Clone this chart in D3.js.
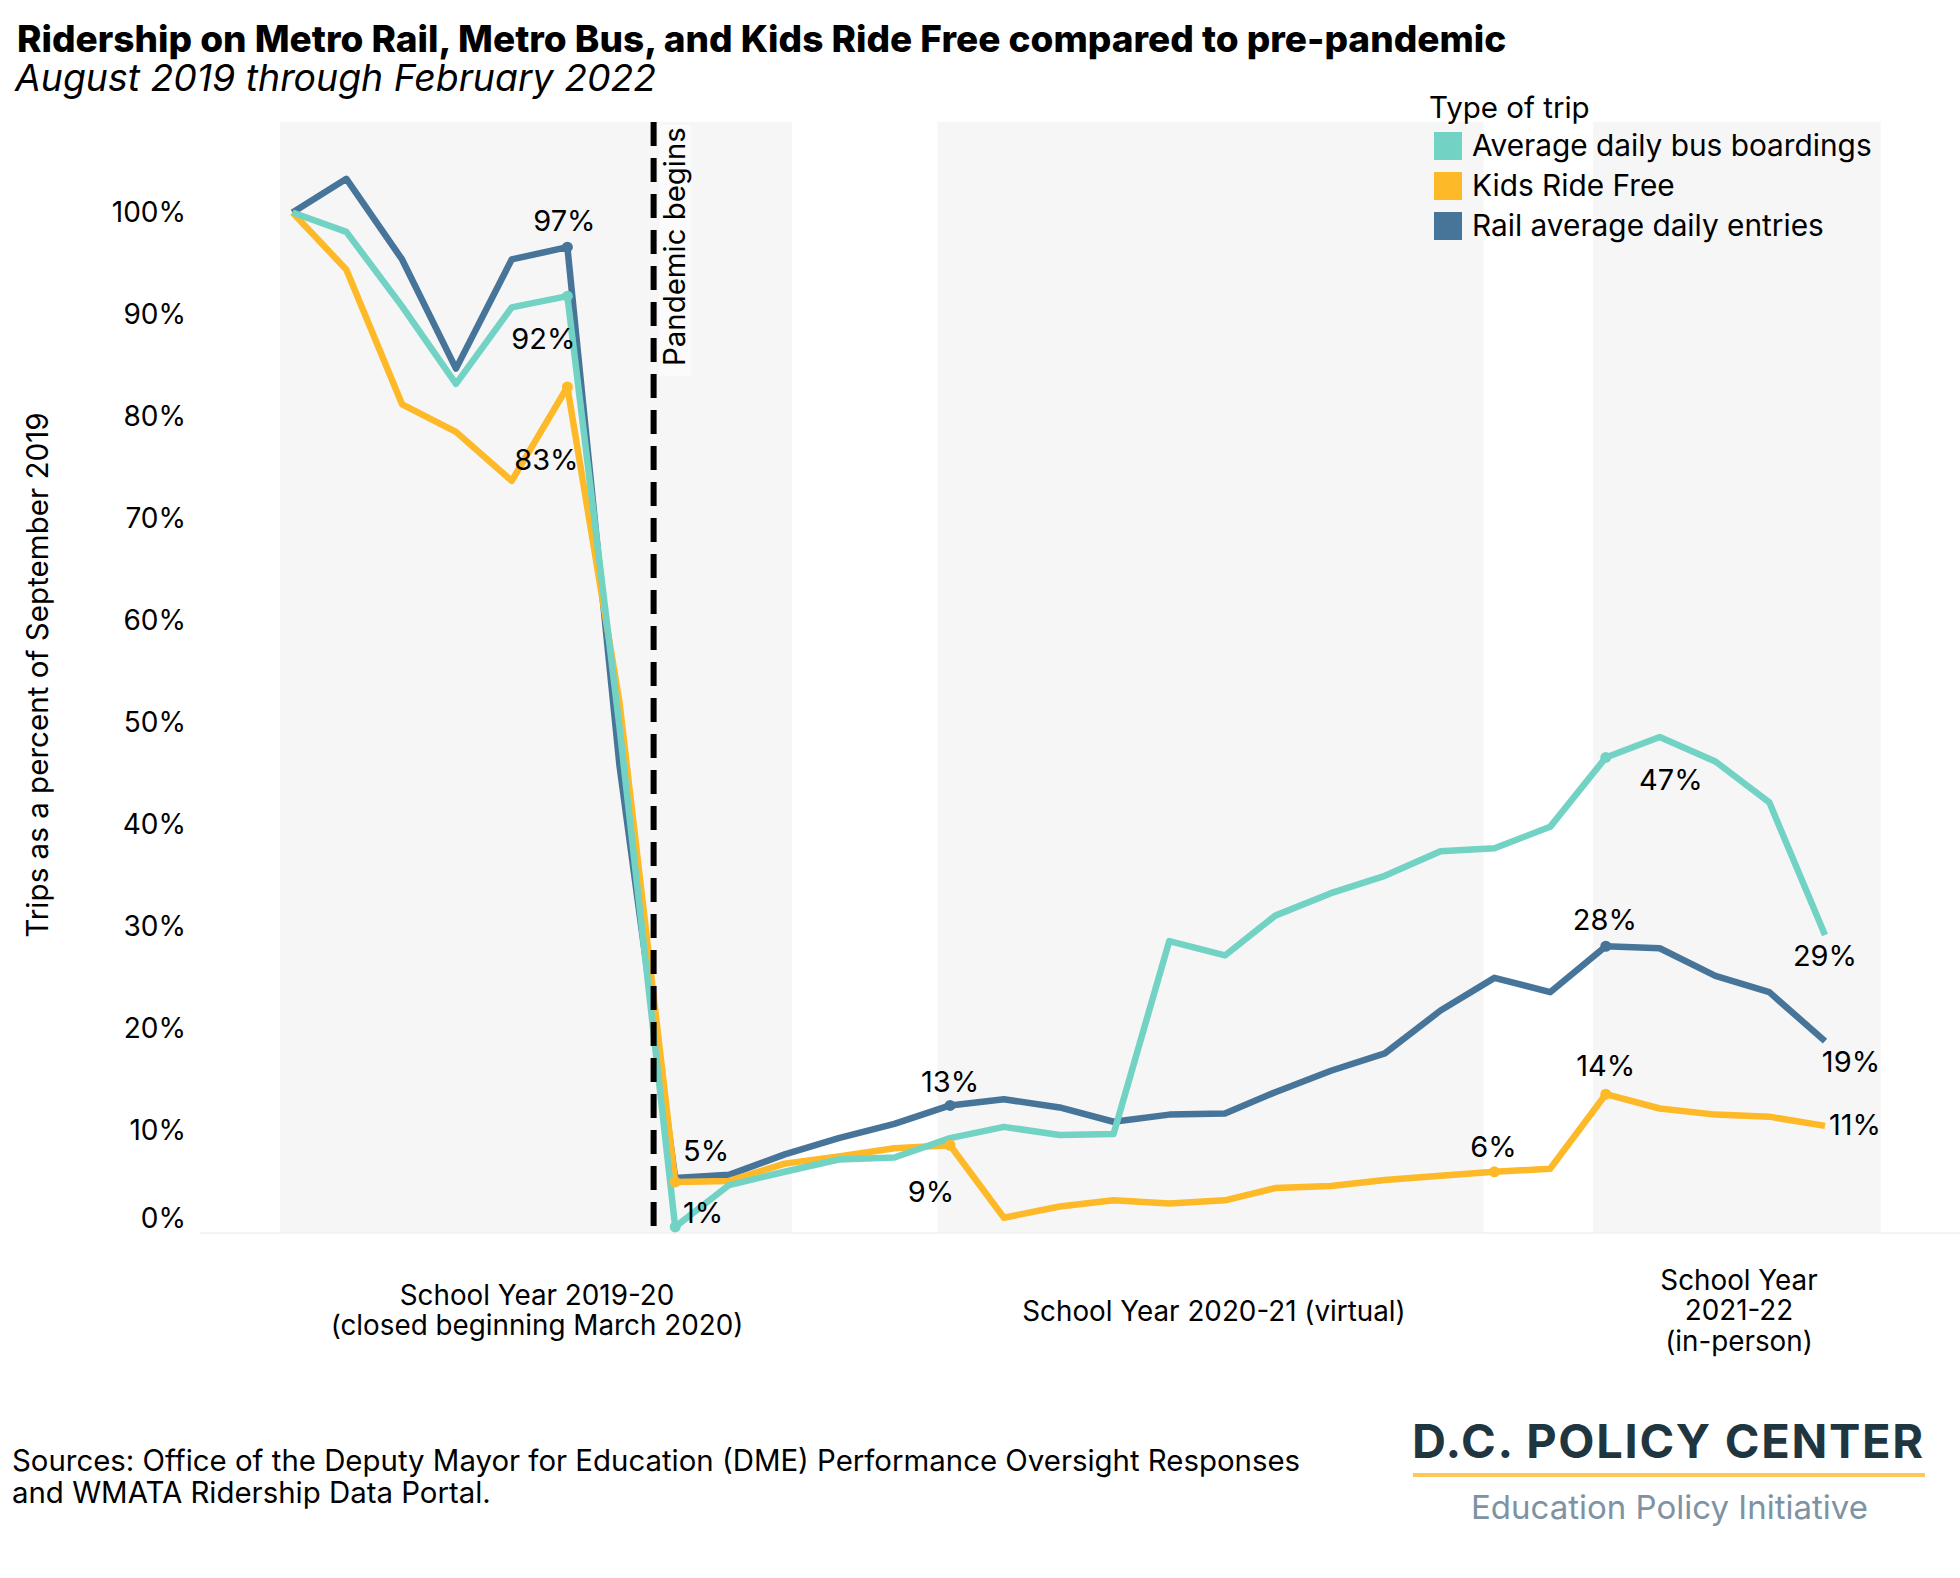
<!DOCTYPE html>
<html>
<head>
<meta charset="utf-8">
<script src="https://cdn.jsdelivr.net/npm/d3@7"></script>
<style>
  body { margin: 0; background: #fff; }
  text { font-family: Inter, sans-serif; fill: #000; }
</style>
</head>
<body>
<div id="chart"></div>
<script>
var months = ["2019-09","2019-10","2019-11","2019-12","2020-01","2020-02","2020-03",
  "2020-04","2020-05","2020-06","2020-07","2020-08","2020-09","2020-10","2020-11","2020-12",
  "2021-01","2021-02","2021-03","2021-04","2021-05","2021-06","2021-07","2021-08","2021-09",
  "2021-10","2021-11","2021-12","2022-01"];

var railValues = [100,103.3,95.4,84.7,95.4,96.6,45.8,
  5.4,5.7,7.7,9.3,10.7,12.5,13.1,12.3,10.9,
  11.6,11.7,13.8,15.9,17.6,21.8,25.0,23.6,28.1,
  27.9,25.2,23.6,18.8];
var kidsValues = [100,94.4,81.2,78.5,73.7,82.9,52,
  5.0,5.1,6.8,7.5,8.3,8.6,1.5,2.6,3.2,
  2.9,3.2,4.4,4.6,5.2,5.6,6.0,6.3,13.6,
  12.2,11.6,11.4,10.5];
var busValues = [100,98.1,90.8,83.2,90.7,91.8,49.6,
  0.6,4.7,6.0,7.2,7.4,9.3,10.4,9.6,9.7,
  28.6,27.2,31.1,33.3,35.0,37.4,37.7,39.8,46.6,
  48.6,46.2,42.2,29.2];

var seriesNames = ["Average daily bus boardings","Kids Ride Free","Rail average daily entries"];
var yTicks = [0,10,20,30,40,50,60,70,80,90,100];
var schoolYearStart = ["2019-08-25","2020-08-25","2021-08-25"];
var schoolYearEnd = ["2020-06-05","2021-06-25","2022-02-01"];
var pandemicDate = "2020-03-20";

// value labels: series, month, text
var labelSeries = ["rail","bus","kids","kids","bus","rail","kids","kids","kids","rail","bus","bus","rail","kids"];
var labelMonths = ["2020-02","2020-02","2020-02","2020-04","2020-04","2020-09","2020-09","2021-07","2021-09","2021-09","2021-09","2022-01","2022-01","2022-01"];
var labelTexts = ["97%","92%","83%","5%","1%","13%","9%","6%","14%","28%","47%","29%","19%","11%"];
var labelNudge = [[-3,-26],[-24,43],[-21,73],[31,-31],[28,-14],[0,-24],[-19,47],[-1,-25],[0,-28],[-1,-26],[65,22],[0,21],[26,21],[30,-1]];

var colors = {bus: "#72d3c4", kids: "#fdb927", rail: "#47759a"};
var seriesValues = {bus: busValues, kids: kidsValues, rail: railValues};

var width = 1960, height = 1578;
var parseMonth = d3.timeParse("%Y-%m"), parseDay = d3.timeParse("%Y-%m-%d");

var svg = d3.select("#chart").append("svg")
    .attr("width", width).attr("height", height)
    .style("display", "block");

var x = d3.scaleTime()
    .domain([parseMonth("2019-09"), parseMonth("2022-01")])
    .range([292.5, 1825]);
var y = d3.scaleLinear().domain([0, 100]).range([1233, 212.5]);

var plotTop = 122;

// shaded school years
svg.selectAll(".band").data(schoolYearStart).enter().append("rect")
    .attr("class", "band")
    .attr("x", function(d) { return x(parseDay(d)); })
    .attr("width", function(d, i) { return x(parseDay(schoolYearEnd[i])) - x(parseDay(d)); })
    .attr("y", plotTop)
    .attr("height", y(0) - plotTop)
    .attr("fill", "#f6f6f6");

// baseline
svg.append("line").attr("x1", 200).attr("x2", width).attr("y1", y(0)).attr("y2", y(0))
    .attr("stroke", "#f0f0f0").attr("stroke-width", 1.5);

// y axis
var yAxis = d3.axisLeft(y).tickValues(yTicks).tickSize(0).tickPadding(0)
    .tickFormat(function(d) { return d + "%"; });
var yg = svg.append("g").attr("transform", "translate(186,0)").call(yAxis);
yg.select(".domain").remove();
yg.selectAll("text").style("font-size", "28px").style("font-family", "Inter, sans-serif");
// zero label sits a bit above the baseline
yg.selectAll(".tick").filter(function(d) { return d === 0; }).select("text").attr("dy", "-0.18em");

svg.append("text")
    .attr("transform", "translate(38,675) rotate(-90)")
    .attr("text-anchor", "middle").attr("dy", "0.35em")
    .style("font-size", "29.6px")
    .text("Trips as a percent of September 2019");

// lines
var line = d3.line()
    .x(function(d, i) { return x(parseMonth(months[i])); })
    .y(function(d) { return y(d); });

["rail", "kids", "bus"].forEach(function(key) {
    svg.append("path").datum(seriesValues[key])
        .attr("d", line)
        .attr("fill", "none")
        .attr("stroke", colors[key])
        .attr("stroke-width", 6.5)
        .attr("stroke-linejoin", "round");
});

// dots on the labelled points, the last month has none
labelTexts.forEach(function(t, i) {
    var key = labelSeries[i], m = labelMonths[i];
    var px = x(parseMonth(m)), py = y(seriesValues[key][months.indexOf(m)]);
    if (m !== "2022-01") {
        svg.append("circle").attr("cx", px).attr("cy", py).attr("r", 5.5).attr("fill", colors[key]);
    }
    svg.append("text")
        .attr("x", px + labelNudge[i][0]).attr("y", py + labelNudge[i][1])
        .attr("text-anchor", "middle").attr("dy", "0.35em")
        .style("font-size", "29px")
        .text(t);
});

// pandemic marker
svg.append("line")
    .attr("x1", x(parseDay(pandemicDate))).attr("x2", x(parseDay(pandemicDate)))
    .attr("y1", plotTop).attr("y2", 1226)
    .attr("stroke", "#000").attr("stroke-width", 6).attr("stroke-dasharray", "24 12");
svg.append("rect").attr("x", 659).attr("y", 125).attr("width", 32).attr("height", 251)
    .attr("fill", "#fff").attr("opacity", 0.6);
svg.append("text")
    .attr("transform", "translate(675,366) rotate(-90)")
    .attr("dy", "0.35em")
    .style("font-size", "29.4px")
    .text("Pandemic begins");

// titles
svg.append("text").attr("x", 17).attr("y", 52)
    .style("font-size", "37px").style("font-weight", 800).text("Ridership on Metro Rail, Metro Bus, and Kids Ride Free compared to pre-pandemic");
svg.append("text").attr("x", 15).attr("y", 91)
    .style("font-size", "37.4px").style("font-style", "italic").text("August 2019 through February 2022");

// legend
svg.append("text").attr("x", 1429).attr("y", 118).style("font-size", "29.5px").text("Type of trip");
var legendKeys = ["bus", "kids", "rail"];
legendKeys.forEach(function(key, i) {
    svg.append("rect").attr("x", 1434).attr("y", 132 + i * 40).attr("width", 28).attr("height", 28)
        .attr("fill", colors[key]);
    svg.append("text").attr("x", 1472).attr("y", 146 + i * 40).attr("dy", "0.35em")
        .style("font-size", "29.8px").text(seriesNames[i]);
});

// school year captions
var captions = [
    {cx: 537, lines: ["School Year 2019-20", "(closed beginning March 2020)"], top: 1295},
    {cx: 1214, lines: ["School Year 2020-21 (virtual)"], top: 1311},
    {cx: 1739, lines: ["School Year", "2021-22", "(in-person)"], top: 1280}
];
captions.forEach(function(c) {
    c.lines.forEach(function(l, i) {
        svg.append("text").attr("x", c.cx).attr("y", c.top + i * 30.5)
            .attr("text-anchor", "middle").attr("dy", "0.35em")
            .style("font-size", "27.8px").text(l);
    });
});

// sources
svg.append("text").attr("x", 12).attr("y", 1461).attr("dy", "0.35em").style("font-size", "29.4px")
    .text("Sources: Office of the Deputy Mayor for Education (DME) Performance Oversight Responses");
svg.append("text").attr("x", 12).attr("y", 1493).attr("dy", "0.35em").style("font-size", "29.4px")
    .text("and WMATA Ridership Data Portal.");

// logo
svg.append("text").attr("x", 1412).attr("y", 1458)
    .style("font-size", "47px").style("font-weight", 700).style("letter-spacing", "1.7px")
    .style("fill", "#1f3641").text("D.C. POLICY CENTER");
svg.append("rect").attr("x", 1413).attr("y", 1473).attr("width", 512).attr("height", 4).attr("fill", "#fdc75a");
svg.append("text").attr("x", 1471).attr("y", 1519)
    .style("font-size", "33px").style("fill", "#7d93a3").text("Education Policy Initiative");
</script>
</body>
</html>
